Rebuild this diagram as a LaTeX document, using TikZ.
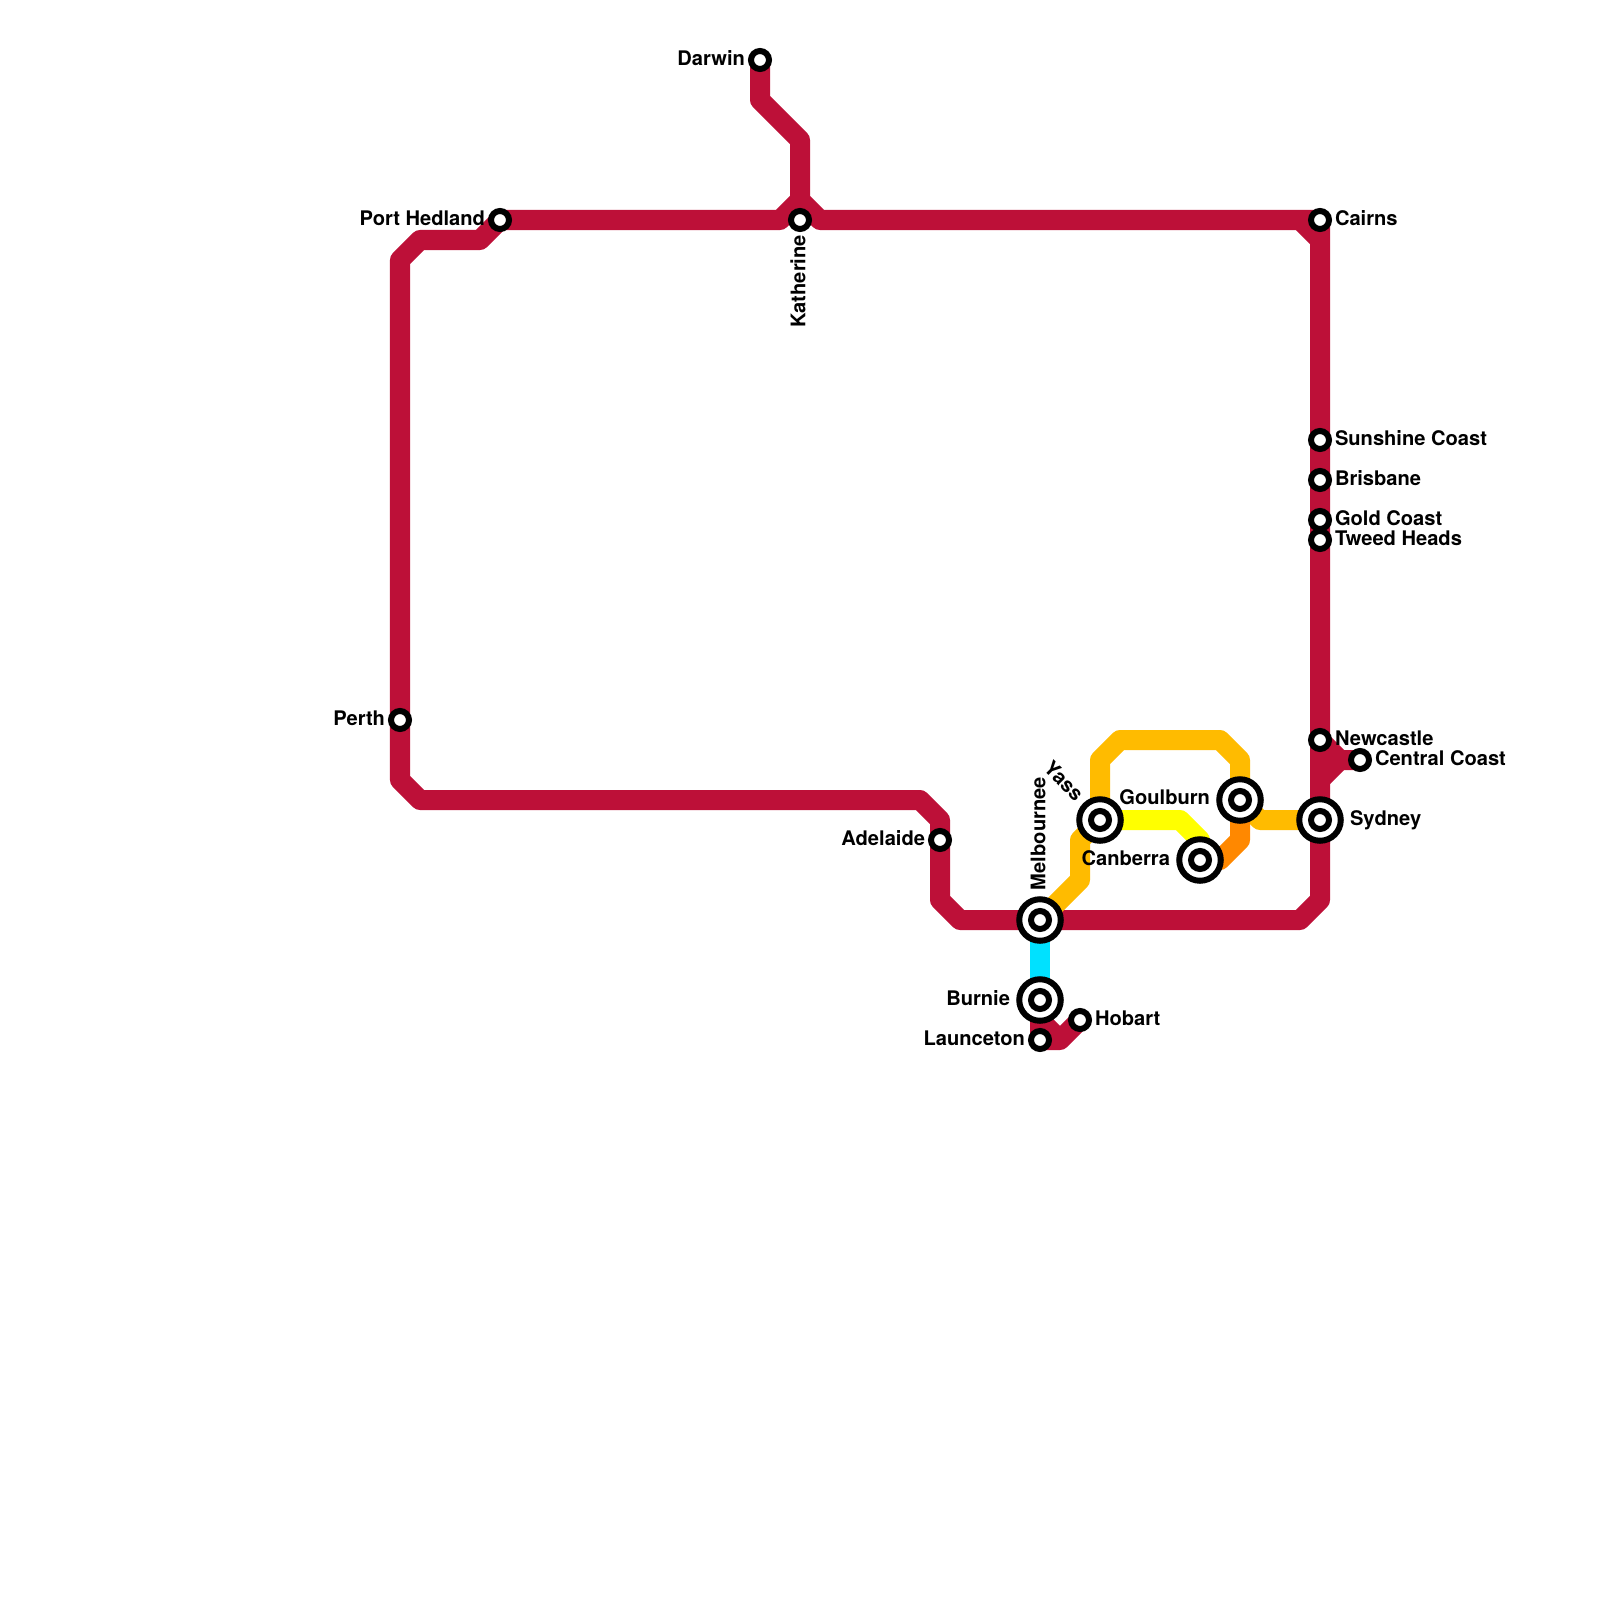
\documentclass[tikz,border=0pt]{standalone}
\usepackage{fontspec}
\setmainfont{TeX Gyre Heros}
\usetikzlibrary{backgrounds}
\definecolor{lineRed}{HTML}{BD1038}
\definecolor{lineAmber}{HTML}{FFBB00}
\definecolor{lineOrange}{HTML}{FF8800}
\definecolor{lineYellow}{HTML}{FFFF00}
\definecolor{lineCyan}{HTML}{00E1FF}
\tikzset{
  track/.style={line width=0.2cm, line join=round},
  stn/.style={circle, draw=black, fill=white, line width=0.06cm, inner sep=0pt, outer sep=0pt, minimum size=0.18cm},
  hub/.style={stn, minimum size=0.415cm},
  lbl/.style={font=\bfseries\fontsize{5.72pt}{7pt}\selectfont, inner sep=0pt, outer sep=0pt, text height=0.145cm, text depth=0pt}
}
\begin{document}
\begin{tikzpicture}[x=0.01cm, y=-0.01cm]
      \useasboundingbox (0,0) rectangle (1600,1600);
      % Stations
      \node[stn] (darwin) at (760,60) {};
      \node[stn] (katherine) at (800,220) {};
      \node[stn] (porthedland) at (500,220) {};
      \node[stn] (perth) at (400,720) {};
      \node[stn] (adelaide) at (940,840) {};
      \node[stn] (cairns) at (1320,220) {};
      \node[stn] (sunshine) at (1320,440) {};
      \node[stn] (brisbane) at (1320,480) {};
      \node[stn] (goldcoast) at (1320,520) {};
      \node[stn] (tweed) at (1320,540) {};
      \node[stn] (newcastle) at (1320,740) {};
      \node[stn] (centralcoast) at (1360,760) {};
      \node[stn] (launceton) at (1040,1040) {};
      \node[stn] (hobart) at (1080,1020) {};
      \node[hub] (sydney) at (1320,820) {};
      \node[hub] (goulburn) at (1240,800) {};
      \node[hub] (canberra) at (1200,860) {};
      \node[hub] (yass) at (1100,820) {};
      \node[hub] (melbourne) at (1040,920) {};
      \node[hub] (burnie) at (1040,1000) {};
      \foreach \n in {sydney,goulburn,canberra,yass,melbourne,burnie} {
            \node[stn] (\n dot) at (\n) {};
      }

      % Labels
      \node[lbl, anchor=east] (darwinlbl) at (745,58) {Darwin};
      \node[lbl, anchor=east] (porthedlandlbl) at (485,218) {Port Hedland};
      \node[lbl, anchor=east] (perthlbl) at (385,718) {Perth};
      \node[lbl, anchor=east] (adelaidelbl) at (925,838) {Adelaide};
      \node[lbl, anchor=east] (goulburnlbl) at (1210,797) {Goulburn};
      \node[lbl, anchor=east] (canberralbl) at (1170,858) {Canberra};
      \node[lbl, anchor=east] (burnielbl) at (1010,998) {Burnie};
      \node[lbl, anchor=east] (launcetonlbl) at (1025,1038) {Launceton};
      \node[lbl, anchor=west] (hobartlbl) at (1095,1018) {Hobart};
      \node[lbl, anchor=west] (cairnslbl) at (1335,218) {Cairns};
      \node[lbl, anchor=west] (sunshinelbl) at (1335,438) {Sunshine Coast};
      \node[lbl, anchor=west] (brisbanelbl) at (1335,478) {Brisbane};
      \node[lbl, anchor=west] (goldcoastlbl) at (1335,518) {Gold Coast};
      \node[lbl, anchor=west] (tweedlbl) at (1335,538) {Tweed Heads};
      \node[lbl, anchor=west] (newcastlelbl) at (1335,738) {Newcastle};
      \node[lbl, anchor=west] (centralcoastlbl) at (1375,758) {Central Coast};
      \node[lbl, anchor=west] (sydneylbl) at (1350,818) {Sydney};
      \node[lbl, anchor=east, rotate=90] (katherinelbl) at (798,235) {Katherine};
      \node[lbl, anchor=west, rotate=90] (melbournelbl) at (1038,890) {Melbournee};
      \node[lbl, rotate=-45] (yasslbl) at (1064,781) {Yass};

      \begin{pgfonlayer}{background}
      % Red line
      \draw[track, lineRed] (darwin.center) -- ++(0,40) -- ++(40,40) -- ++(0,60) -- ++(20,20) -- (cairns.center) -- (newcastle.center) -- (sydney.center) -- ++(0,80) -- ++(-20,20) -- (melbourne.center);
      \draw[track, lineRed] (melbourne.center) -- ++(-80,0) -- ++(-20,-20) -- (adelaide.center) -- ++(0,-20) -- ++(-20,-20) -- ++(-500,0) -- ++(-20,-20) -- (perth.center) -- ++(0,-460) -- ++(20,-20) -- ++(60,0) -- (porthedland.center) -- ++(280,0) -- ++(20,-20);
      \draw[track, lineRed] (1300,220) -- ++(20,20);
      \draw[track, lineRed] (newcastle.center) -- ++(20,20) -- (centralcoast.center);
      \draw[track, lineRed] (1340,760) -- ++(-20,20);
      \draw[track, lineRed] (burnie.center) -- (launceton.center) -- ++(20,0) -- (hobart.center);
      \draw[track, lineRed] (1040,1020) -- ++(20,20);
      % Amber line
      \draw[track, lineAmber] (melbourne.center) -- ++(40,-40) -- ++(0,-40) -- (yass.center) -- ++(0,-60) -- ++(20,-20) -- ++(100,0) -- ++(20,20) -- (goulburn.center) -- ++(20,20) -- (sydney.center);
      % Orange line
      \draw[track, lineOrange] (goulburn.center) -- ++(0,40) -- ++(-20,20) -- (canberra.center);
      % Yellow line
      \draw[track, lineYellow] (yass.center) -- ++(80,0) -- ++(20,20) -- (canberra.center);
      % Cyan line
      \draw[track, lineCyan] (melbourne.center) -- (burnie.center);
      \end{pgfonlayer}
\end{tikzpicture}
\end{document}
